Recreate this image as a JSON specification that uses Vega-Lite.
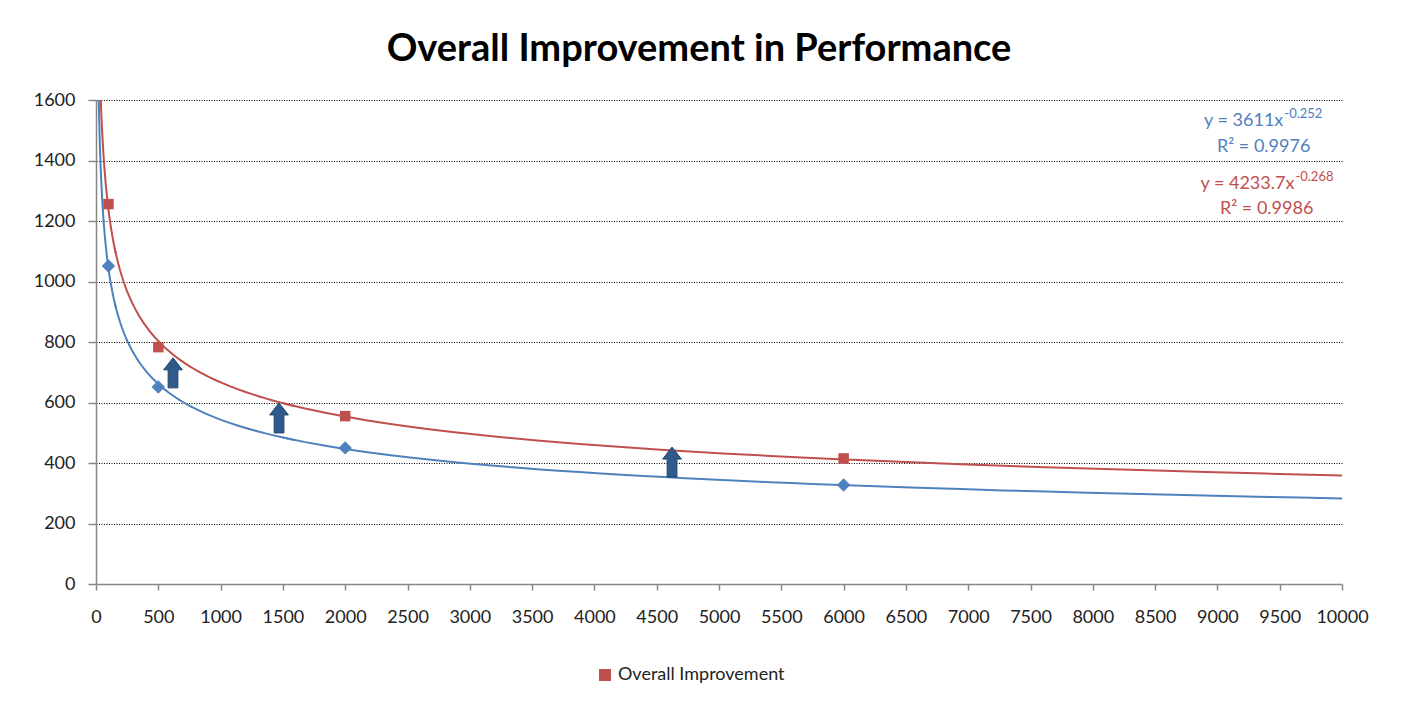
{
  "$schema": "https://vega.github.io/schema/vega-lite/v6.json",
  "width": 1246,
  "height": 484,
  "autosize": {"type": "none"},
  "padding": {"left": 96, "top": 100, "right": 60, "bottom": 120},
  "background": "white",
  "title": {
    "text": "Overall Improvement in Performance",
    "font": "Lato",
    "fontSize": 38,
    "fontWeight": "bold",
    "color": "#000000",
    "anchor": "middle",
    "dx": -20,
    "offset": 22
  },
  "datasets": {
    "points": [
      {"series": "Baseline", "x": 100, "y": 1051},
      {"series": "Baseline", "x": 500, "y": 651},
      {"series": "Baseline", "x": 2000, "y": 450},
      {"series": "Baseline", "x": 6000, "y": 327},
      {"series": "Overall Improvement", "x": 100, "y": 1256},
      {"series": "Overall Improvement", "x": 500, "y": 783},
      {"series": "Overall Improvement", "x": 2000, "y": 555},
      {"series": "Overall Improvement", "x": 6000, "y": 415}
    ],
    "arrows": [
      {"x": 618, "y": 698},
      {"x": 1469, "y": 549},
      {"x": 4623, "y": 403}
    ],
    "equations": [
      {"series": "Baseline", "label": "y = 3611x", "sup": "-0.252", "x": 9529, "y": 1531, "ys": 1554},
      {"series": "Overall Improvement", "label": "y = 4233.7x", "sup": "-0.268", "x": 9618, "y": 1322, "ys": 1345}
    ],
    "r2": [
      {"series": "Baseline", "label": "R² = 0.9976", "x": 9746, "y": 1445},
      {"series": "Overall Improvement", "label": "R² = 0.9986", "x": 9770, "y": 1240}
    ]
  },
  "layer": [
    {
      "data": {"name": "points"},
      "transform": [
        {"regression": "y", "on": "x", "groupby": ["series"], "method": "pow", "extent": [10, 160]}
      ],
      "mark": {"type": "line", "clip": true, "strokeWidth": 2},
      "encoding": {
        "x": {"field": "x", "type": "quantitative"},
        "y": {"field": "y", "type": "quantitative"},
        "color": {"field": "series", "type": "nominal"}
      }
    },
    {
      "data": {"name": "points"},
      "transform": [
        {"regression": "y", "on": "x", "groupby": ["series"], "method": "pow", "extent": [150, 1600]}
      ],
      "mark": {"type": "line", "clip": true, "strokeWidth": 2},
      "encoding": {
        "x": {"field": "x", "type": "quantitative"},
        "y": {"field": "y", "type": "quantitative"},
        "color": {"field": "series", "type": "nominal"}
      }
    },
    {
      "data": {"name": "points"},
      "transform": [
        {"regression": "y", "on": "x", "groupby": ["series"], "method": "pow", "extent": [1500, 10000]}
      ],
      "mark": {"type": "line", "clip": true, "strokeWidth": 2},
      "encoding": {
        "x": {"field": "x", "type": "quantitative"},
        "y": {"field": "y", "type": "quantitative"},
        "color": {"field": "series", "type": "nominal"}
      }
    },
    {
      "data": {"name": "points"},
      "mark": {"type": "point", "filled": true, "opacity": 1},
      "encoding": {
        "x": {
          "field": "x", "type": "quantitative",
          "scale": {"domain": [0, 10000], "nice": false, "zero": true},
          "axis": {
            "title": null,
            "format": "d",
            "values": [0,500,1000,1500,2000,2500,3000,3500,4000,4500,5000,5500,6000,6500,7000,7500,8000,8500,9000,9500,10000],
            "grid": false,
            "tickSize": 6,
            "labelPadding": 18,
            "labelFlush": false,
            "labelOverlap": false
          }
        },
        "y": {
          "field": "y", "type": "quantitative",
          "scale": {"domain": [0, 1600], "nice": false},
          "axis": {
            "title": null,
            "format": "d",
            "values": [0,200,400,600,800,1000,1200,1400,1600],
            "grid": true,
            "gridColor": "#000000",
            "gridDash": [1, 1.5],
            "gridWidth": 1,
            "gridOpacity": {"condition": {"test": "datum.value === 0", "value": 0}, "value": 1},
            "tickSize": 8,
            "labelPadding": 13
          }
        },
        "color": {
          "field": "series", "type": "nominal",
          "scale": {"domain": ["Baseline", "Overall Improvement"], "range": ["#4F81BD", "#C0504D"]},
          "legend": {
            "values": ["Overall Improvement"],
            "title": null,
            "orient": "none",
            "legendX": 500,
            "legendY": 566,
            "symbolType": "square",
            "symbolSize": 100,
            "labelFontSize": 18,
            "labelFont": "Lato",
            "labelColor": "#222222",
            "labelLimit": 400,
            "symbolOffset": 0,
            "labelOffset": 4
          }
        },
        "shape": {
          "field": "series", "type": "nominal",
          "scale": {"domain": ["Baseline", "Overall Improvement"], "range": ["diamond", "square"]},
          "legend": {
            "values": ["Overall Improvement"],
            "title": null,
            "orient": "none",
            "legendX": 500,
            "legendY": 566,
            "symbolType": "square",
            "symbolSize": 100,
            "labelFontSize": 18,
            "labelFont": "Lato",
            "labelColor": "#222222",
            "labelLimit": 400,
            "symbolOffset": 0,
            "labelOffset": 4
          }
        },
        "size": {
          "field": "series", "type": "nominal",
          "scale": {"domain": ["Baseline", "Overall Improvement"], "range": [180, 110]},
          "legend": null
        }
      }
    },
    {
      "data": {"name": "arrows"},
      "mark": {
        "type": "point",
        "filled": true,
        "shape": "M0,-2L1.25,-0.4L0.65,-0.4L0.65,2L-0.65,2L-0.65,-0.4L-1.25,-0.4Z",
        "size": 225,
        "color": "#30598C",
        "stroke": "#22446E",
        "strokeWidth": 1,
        "opacity": 1
      },
      "encoding": {
        "x": {"field": "x", "type": "quantitative"},
        "y": {"field": "y", "type": "quantitative"}
      }
    },
    {
      "data": {"name": "equations"},
      "mark": {"type": "text", "align": "right", "baseline": "middle", "font": "Lato", "fontSize": 18},
      "encoding": {
        "x": {"field": "x", "type": "quantitative"},
        "y": {"field": "y", "type": "quantitative"},
        "text": {"field": "label"},
        "color": {"field": "series", "type": "nominal"}
      }
    },
    {
      "data": {"name": "equations"},
      "mark": {"type": "text", "align": "left", "baseline": "middle", "font": "Lato", "fontSize": 13, "dx": 1},
      "encoding": {
        "x": {"field": "x", "type": "quantitative"},
        "y": {"field": "ys", "type": "quantitative"},
        "text": {"field": "sup"},
        "color": {"field": "series", "type": "nominal"}
      }
    },
    {
      "data": {"name": "r2"},
      "mark": {"type": "text", "align": "right", "baseline": "middle", "font": "Lato", "fontSize": 18},
      "encoding": {
        "x": {"field": "x", "type": "quantitative"},
        "y": {"field": "y", "type": "quantitative"},
        "text": {"field": "label"},
        "color": {"field": "series", "type": "nominal"}
      }
    }
  ],
  "config": {
    "view": {"stroke": null},
    "axis": {
      "domainColor": "#868686",
      "domainWidth": 1.5,
      "tickColor": "#868686",
      "tickWidth": 1.5,
      "labelFont": "Lato",
      "labelFontSize": 18,
      "labelColor": "#222222"
    }
  }
}
